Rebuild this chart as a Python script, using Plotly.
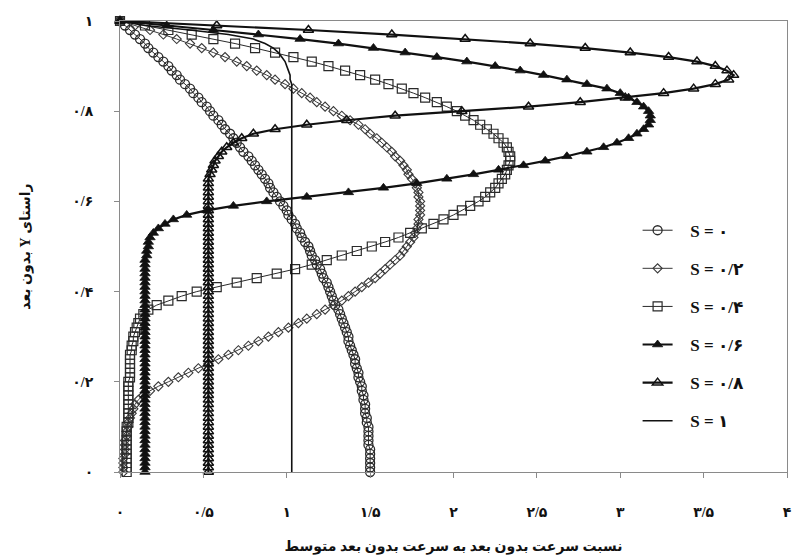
import plotly.graph_objects as go

# Dimensionless channel coordinate (0 = centre line, 1 = wall)
y_levels = [
    0.00, 0.01, 0.02, 0.03, 0.04, 0.05, 0.06, 0.07, 0.08, 0.09,
    0.10, 0.11, 0.12, 0.13, 0.14, 0.15, 0.16, 0.17, 0.18, 0.19,
    0.20, 0.21, 0.22, 0.23, 0.24, 0.25, 0.26, 0.27, 0.28, 0.29,
    0.30, 0.31, 0.32, 0.33, 0.34, 0.35, 0.36, 0.37, 0.38, 0.39,
    0.40, 0.41, 0.42, 0.43, 0.44, 0.45, 0.46, 0.47, 0.48, 0.49,
    0.50, 0.51, 0.52, 0.53, 0.54, 0.55, 0.56, 0.57, 0.58, 0.59,
    0.60, 0.61, 0.62, 0.63, 0.64, 0.65, 0.66, 0.67, 0.68, 0.69,
    0.70, 0.71, 0.72, 0.73, 0.74, 0.75, 0.76, 0.77, 0.78, 0.79,
    0.80, 0.81, 0.82, 0.83, 0.84, 0.85, 0.86, 0.87, 0.88, 0.89,
    0.90, 0.91, 0.92, 0.93, 0.94, 0.95, 0.96, 0.97, 0.98, 0.99,
    1.00,
]

# Velocity ratio u/u_mean for each S
u_s00 = [
    1.50, 1.50, 1.50, 1.50, 1.50, 1.50, 1.49, 1.49, 1.49, 1.49,
    1.49, 1.48, 1.48, 1.47, 1.47, 1.47, 1.46, 1.46, 1.45, 1.45,
    1.44, 1.43, 1.43, 1.42, 1.41, 1.41, 1.40, 1.39, 1.38, 1.37,
    1.37, 1.36, 1.35, 1.34, 1.33, 1.32, 1.31, 1.29, 1.28, 1.27,
    1.26, 1.25, 1.24, 1.22, 1.21, 1.20, 1.18, 1.17, 1.15, 1.14,
    1.13, 1.11, 1.09, 1.08, 1.06, 1.05, 1.03, 1.01, 1.00, 0.98,
    0.96, 0.94, 0.92, 0.90, 0.89, 0.87, 0.85, 0.83, 0.81, 0.79,
    0.77, 0.74, 0.72, 0.70, 0.68, 0.66, 0.63, 0.61, 0.59, 0.56,
    0.54, 0.52, 0.49, 0.47, 0.44, 0.42, 0.39, 0.36, 0.34, 0.31,
    0.29, 0.26, 0.23, 0.20, 0.17, 0.15, 0.12, 0.09, 0.06, 0.03,
    0.00,
]

u_s02 = [
    0.02, 0.02, 0.02, 0.02, 0.03, 0.03, 0.03, 0.03, 0.04, 0.04,
    0.05, 0.05, 0.06, 0.07, 0.08, 0.09, 0.11, 0.14, 0.18, 0.23,
    0.29, 0.35, 0.41, 0.47, 0.53, 0.59, 0.65, 0.71, 0.77, 0.83,
    0.89, 0.95, 1.01, 1.07, 1.12, 1.18, 1.23, 1.28, 1.33, 1.37,
    1.41, 1.45, 1.49, 1.53, 1.56, 1.59, 1.62, 1.65, 1.68, 1.70,
    1.72, 1.74, 1.76, 1.77, 1.78, 1.79, 1.79, 1.80, 1.80, 1.80,
    1.80, 1.79, 1.79, 1.78, 1.77, 1.75, 1.73, 1.72, 1.70, 1.68,
    1.65, 1.63, 1.60, 1.57, 1.54, 1.50, 1.47, 1.43, 1.38, 1.33,
    1.28, 1.23, 1.18, 1.14, 1.09, 1.04, 0.99, 0.93, 0.88, 0.82,
    0.76, 0.70, 0.63, 0.56, 0.49, 0.42, 0.34, 0.26, 0.18, 0.09,
    0.00,
]

u_s04 = [
    0.04, 0.04, 0.04, 0.04, 0.04, 0.04, 0.04, 0.04, 0.04, 0.04,
    0.04, 0.05, 0.05, 0.05, 0.05, 0.05, 0.05, 0.05, 0.05, 0.05,
    0.05, 0.06, 0.06, 0.06, 0.06, 0.06, 0.06, 0.07, 0.07, 0.08,
    0.08, 0.09, 0.10, 0.11, 0.12, 0.14, 0.17, 0.22, 0.29, 0.37,
    0.46, 0.58, 0.70, 0.82, 0.94, 1.05, 1.15, 1.24, 1.33, 1.42,
    1.51, 1.59, 1.67, 1.74, 1.81, 1.88, 1.94, 2.00, 2.05, 2.10,
    2.15, 2.19, 2.22, 2.25, 2.27, 2.29, 2.31, 2.32, 2.33, 2.34,
    2.34, 2.33, 2.32, 2.30, 2.27, 2.24, 2.20, 2.16, 2.12, 2.07,
    2.02, 1.96, 1.90, 1.83, 1.76, 1.69, 1.61, 1.53, 1.44, 1.35,
    1.25, 1.15, 1.04, 0.93, 0.81, 0.69, 0.56, 0.43, 0.29, 0.15,
    0.00,
]

u_s06 = [
    0.15, 0.15, 0.15, 0.15, 0.15, 0.15, 0.15, 0.15, 0.15, 0.15,
    0.15, 0.15, 0.15, 0.15, 0.15, 0.15, 0.15, 0.15, 0.15, 0.15,
    0.15, 0.15, 0.15, 0.15, 0.15, 0.15, 0.15, 0.15, 0.15, 0.15,
    0.15, 0.15, 0.15, 0.15, 0.15, 0.15, 0.15, 0.15, 0.15, 0.15,
    0.15, 0.15, 0.15, 0.15, 0.15, 0.15, 0.15, 0.15, 0.16, 0.16,
    0.17, 0.17, 0.18, 0.20, 0.23, 0.27, 0.32, 0.40, 0.52, 0.68,
    0.88, 1.12, 1.37, 1.58, 1.78, 1.96, 2.12, 2.27, 2.42, 2.55,
    2.68, 2.80, 2.90, 2.98, 3.05, 3.10, 3.14, 3.17, 3.18, 3.18,
    3.17, 3.14, 3.10, 3.05, 3.00, 2.92, 2.80, 2.68, 2.54, 2.40,
    2.25, 2.08, 1.90, 1.71, 1.52, 1.31, 1.08, 0.83, 0.56, 0.28,
    0.00,
]

u_s08 = [
    0.53, 0.53, 0.53, 0.53, 0.53, 0.53, 0.53, 0.53, 0.53, 0.53,
    0.53, 0.53, 0.53, 0.53, 0.53, 0.53, 0.53, 0.53, 0.53, 0.53,
    0.53, 0.53, 0.53, 0.53, 0.53, 0.53, 0.53, 0.53, 0.53, 0.53,
    0.53, 0.53, 0.53, 0.53, 0.53, 0.53, 0.53, 0.53, 0.53, 0.53,
    0.53, 0.53, 0.53, 0.53, 0.53, 0.53, 0.53, 0.53, 0.53, 0.53,
    0.53, 0.53, 0.53, 0.53, 0.53, 0.53, 0.53, 0.53, 0.53, 0.53,
    0.53, 0.53, 0.53, 0.53, 0.53, 0.53, 0.54, 0.55, 0.56, 0.57,
    0.59, 0.61, 0.64, 0.68, 0.73, 0.80, 0.93, 1.12, 1.36, 1.65,
    2.05, 2.45, 2.76, 3.03, 3.26, 3.44, 3.57, 3.65, 3.68, 3.64,
    3.57, 3.46, 3.29, 3.06, 2.79, 2.46, 2.07, 1.63, 1.13, 0.58,
    0.00,
]

# Plug-flow case drawn as a plain line
y_s10 = [0.00, 0.85, 0.86, 0.87, 0.88, 0.89, 0.90, 0.91, 0.92,
         0.93, 0.94, 0.95, 0.96, 0.97, 0.98, 0.99, 1.00]
u_s10 = [1.03, 1.03, 1.03, 1.02, 1.02, 1.01, 1.00, 0.99, 0.97,
         0.95, 0.92, 0.87, 0.80, 0.65, 0.42, 0.15, 0.00]

series_names = ["S = ۰", "S = ۰/۲", "S = ۰/۴", "S = ۰/۶", "S = ۰/۸", "S = ۱"]

x_tick_vals = [0, 0.5, 1, 1.5, 2, 2.5, 3, 3.5, 4]
x_tick_text = ["۰", "۰/۵", "۱", "۱/۵", "۲", "۲/۵", "۳", "۳/۵", "۴"]
y_tick_vals = [0, 0.2, 0.4, 0.6, 0.8, 1]
y_tick_text = ["۰", "۰/۲", "۰/۴", "۰/۶", "۰/۸", "۱"]

x_title = "نسبت سرعت بدون بعد به سرعت بدون بعد متوسط"
y_title = "راستای Y بدون بعد"

# right-to-left embedding so the mixed Persian/Latin title reads correctly
RLE, PDF = "\u202b", "\u202c"
PAD = "\u00a0\u00a0\u00a0"

FONT = "Liberation Serif, DejaVu Sans, sans-serif"
INK = "#111111"

styles = [
    dict(symbol="circle-open", size=9, color="#2a2a2a", mlw=1.3, lw=1.0),
    dict(symbol="diamond-open", size=7, color="#3a3a3a", mlw=1.1, lw=1.0),
    dict(symbol="square-open", size=9, color="#2a2a2a", mlw=1.2, lw=1.0),
    dict(symbol="triangle-up", size=9, color=INK, mlw=0.8, lw=2.2),
    dict(symbol="triangle-up-open", size=9, color=INK, mlw=1.5, lw=2.2),
]

fig = go.Figure()
profiles = [u_s00, u_s02, u_s04, u_s06, u_s08]
for i, (u, st) in enumerate(zip(profiles, styles)):
    fig.add_trace(go.Scatter(
        x=u, y=y_levels, mode="lines+markers", name=PAD + series_names[i],
        legendgroup=f"g{i}", cliponaxis=False,
        line=dict(color=st["color"] if st["lw"] < 2 else INK, width=st["lw"]),
        marker=dict(symbol=st["symbol"], size=st["size"], color=st["color"],
                    line=dict(color=st["color"], width=st["mlw"])),
    ))

fig.add_trace(go.Scatter(
    x=u_s10, y=y_s10, mode="lines", name=PAD + series_names[5],
    legendgroup="g5", cliponaxis=False, line=dict(color=INK, width=1.6),
))

axis_common = dict(
    showline=True, linecolor="#8a8a8a", linewidth=1, mirror=True,
    showgrid=False, zeroline=False, ticks="outside", ticklen=5,
    tickcolor="#8a8a8a", tickwidth=1, ticklabeloverflow="allow",
    tickfont=dict(family=FONT, size=14, color=INK, weight="bold"),
)

fig.update_layout(
    width=794, height=557,
    margin=dict(l=120, r=2, t=21, b=85),
    paper_bgcolor="white", plot_bgcolor="white",
    showlegend=True,
    legend=dict(
        x=0.776, y=0.575, xanchor="left", yanchor="top",
        font=dict(family=FONT, size=17, color=INK, weight="bold"),
        bgcolor="rgba(0,0,0,0)", borderwidth=0,
        tracegroupgap=13, itemwidth=30,
    ),
    xaxis=dict(
        range=[0, 4], tickvals=x_tick_vals, ticktext=x_tick_text,
        ticklabelstandoff=22,
        title=dict(text=x_title, standoff=22,
                   font=dict(family=FONT, size=14, color=INK, weight="bold")),
        **axis_common,
    ),
    yaxis=dict(
        range=[0, 1], tickvals=y_tick_vals, ticktext=y_tick_text,
        ticklabelstandoff=18,
        title=dict(text=RLE + y_title + PDF, standoff=38,
                   font=dict(family=FONT, size=14, color=INK, weight="bold")),
        **axis_common,
    ),
)

fig.write_html("out.html")
